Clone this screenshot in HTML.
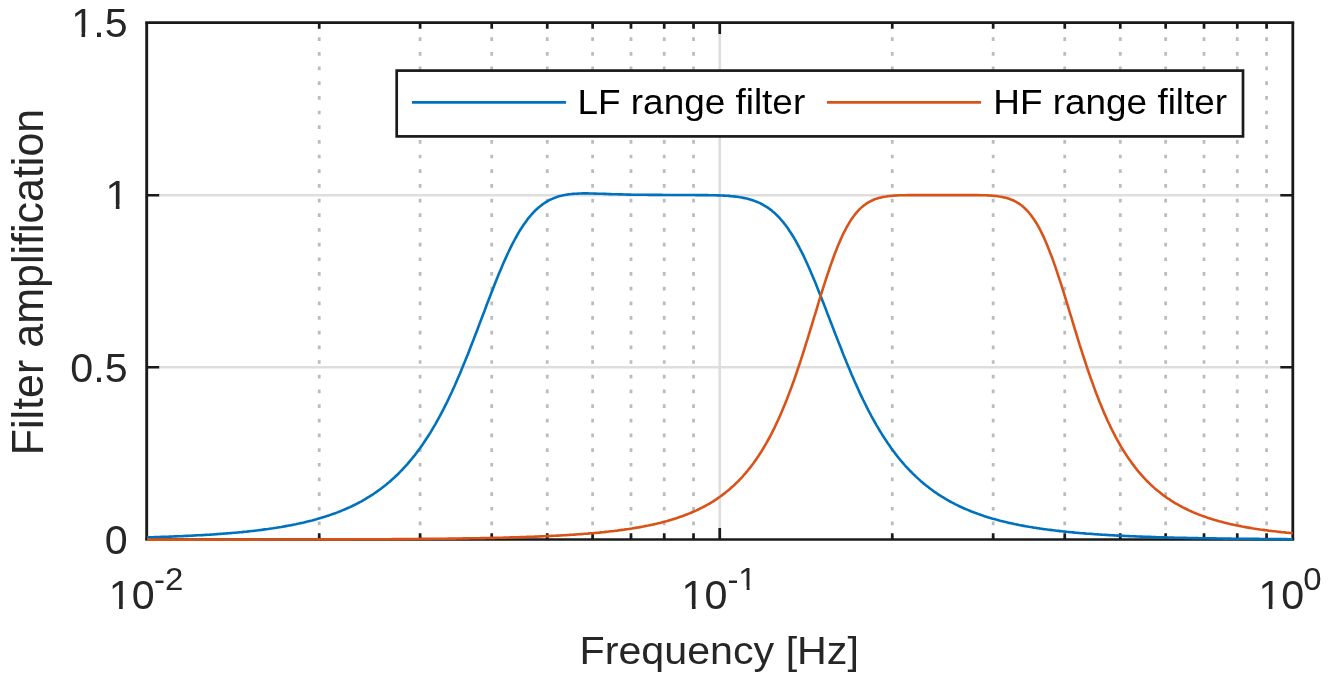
<!DOCTYPE html>
<html lang="en"><head><meta charset="utf-8"><title>Filter amplification</title>
<style>html,body{margin:0;padding:0;background:#fff;overflow:hidden}svg{display:block}text{font-family:"Liberation Sans", Arial, Helvetica, sans-serif}</style></head><body>
<svg width="1329" height="681" viewBox="0 0 1329 681">
<rect width="1329" height="681" fill="#fff"/>
<defs><clipPath id="plot"><rect x="147.00" y="22.50" width="1145.90" height="519.90"/></clipPath></defs>
<g stroke="#bcbcbc" stroke-width="2.8" stroke-dasharray="3.7 10.977" fill="none">
<path d="M319.21,37.25 V539.40"/>
<path d="M420.11,37.25 V539.40"/>
<path d="M491.71,37.25 V539.40"/>
<path d="M547.24,37.25 V539.40"/>
<path d="M592.62,37.25 V539.40"/>
<path d="M630.98,37.25 V539.40"/>
<path d="M664.22,37.25 V539.40"/>
<path d="M693.53,37.25 V539.40"/>
<path d="M892.26,37.25 V539.40"/>
<path d="M993.16,37.25 V539.40"/>
<path d="M1064.76,37.25 V539.40"/>
<path d="M1120.29,37.25 V539.40"/>
<path d="M1165.67,37.25 V539.40"/>
<path d="M1204.03,37.25 V539.40"/>
<path d="M1237.27,37.25 V539.40"/>
<path d="M1266.58,37.25 V539.40"/>
</g>
<g stroke="#dedede" fill="none">
<path stroke-width="2.7" d="M719.75,22.50 V539.40"/>
<path stroke-width="2.5" d="M146.70,367.20 H1292.80"/>
<path stroke-width="2.5" d="M146.70,195.15 H1292.80"/>
</g>
<g stroke="#1a1a1a" stroke-width="2.70" fill="none" stroke-linecap="butt">
<path stroke-width="2.8" d="M145.25,22.55 H1294.20"/>
<path stroke-width="2.55" d="M145.25,539.45 H1294.20"/>
<path stroke-width="2.9" d="M146.70,22.50 V539.40"/>
<path stroke-width="2.8" d="M1292.80,22.50 V539.40"/>
<path d="M319.21,22.50 v6.20 M319.21,539.40 v-6.20"/>
<path d="M420.11,22.50 v6.20 M420.11,539.40 v-6.20"/>
<path d="M491.71,22.50 v6.20 M491.71,539.40 v-6.20"/>
<path d="M547.24,22.50 v6.20 M547.24,539.40 v-6.20"/>
<path d="M592.62,22.50 v6.20 M592.62,539.40 v-6.20"/>
<path d="M630.98,22.50 v6.20 M630.98,539.40 v-6.20"/>
<path d="M664.22,22.50 v6.20 M664.22,539.40 v-6.20"/>
<path d="M693.53,22.50 v6.20 M693.53,539.40 v-6.20"/>
<path d="M719.75,22.50 v11.50 M719.75,539.40 v-11.50"/>
<path d="M892.26,22.50 v6.20 M892.26,539.40 v-6.20"/>
<path d="M993.16,22.50 v6.20 M993.16,539.40 v-6.20"/>
<path d="M1064.76,22.50 v6.20 M1064.76,539.40 v-6.20"/>
<path d="M1120.29,22.50 v6.20 M1120.29,539.40 v-6.20"/>
<path d="M1165.67,22.50 v6.20 M1165.67,539.40 v-6.20"/>
<path d="M1204.03,22.50 v6.20 M1204.03,539.40 v-6.20"/>
<path d="M1237.27,22.50 v6.20 M1237.27,539.40 v-6.20"/>
<path d="M1266.58,22.50 v6.20 M1266.58,539.40 v-6.20"/>
<path stroke-width="2.5" d="M146.70,367.20 h12.50 M1292.80,367.20 h-12.50"/>
<path stroke-width="2.5" d="M146.70,195.15 h12.50 M1292.80,195.15 h-12.50"/>
</g>
<g fill="none" stroke-width="2.6" stroke-linejoin="round" clip-path="url(#plot)">
<path stroke="#0072bd" d="M146.7,537.4 L148.3,537.3 L150.0,537.3 L151.6,537.2 L153.3,537.2 L154.9,537.1 L156.5,537.1 L158.2,537.0 L159.8,537.0 L161.5,536.9 L163.1,536.9 L164.7,536.8 L166.4,536.7 L168.0,536.7 L169.7,536.6 L171.3,536.6 L172.9,536.5 L174.6,536.4 L176.2,536.4 L177.9,536.3 L179.5,536.2 L181.1,536.2 L182.8,536.1 L184.4,536.0 L186.1,535.9 L187.7,535.9 L189.3,535.8 L191.0,535.7 L192.6,535.6 L194.2,535.5 L195.9,535.4 L197.5,535.3 L199.2,535.3 L200.8,535.2 L202.4,535.1 L204.1,535.0 L205.7,534.9 L207.4,534.8 L209.0,534.7 L210.6,534.6 L212.3,534.5 L213.9,534.4 L215.6,534.2 L217.2,534.1 L218.8,534.0 L220.5,533.9 L222.1,533.8 L223.8,533.6 L225.4,533.5 L227.0,533.4 L228.7,533.3 L230.3,533.1 L232.0,533.0 L233.6,532.8 L235.2,532.7 L236.9,532.5 L238.5,532.4 L240.2,532.2 L241.8,532.1 L243.4,531.9 L245.1,531.7 L246.7,531.6 L248.4,531.4 L250.0,531.2 L251.6,531.0 L253.3,530.9 L254.9,530.7 L256.6,530.5 L258.2,530.3 L259.8,530.1 L261.5,529.9 L263.1,529.6 L264.8,529.4 L266.4,529.2 L268.0,529.0 L269.7,528.7 L271.3,528.5 L273.0,528.3 L274.6,528.0 L276.2,527.8 L277.9,527.5 L279.5,527.2 L281.1,527.0 L282.8,526.7 L284.4,526.4 L286.1,526.1 L287.7,525.8 L289.3,525.5 L291.0,525.2 L292.6,524.9 L294.3,524.5 L295.9,524.2 L297.5,523.8 L299.2,523.5 L300.8,523.1 L302.5,522.8 L304.1,522.4 L305.7,522.0 L307.4,521.6 L309.0,521.2 L310.7,520.8 L312.3,520.4 L313.9,519.9 L315.6,519.5 L317.2,519.0 L318.9,518.5 L320.5,518.1 L322.1,517.6 L323.8,517.1 L325.4,516.5 L327.1,516.0 L328.7,515.5 L330.3,514.9 L332.0,514.3 L333.6,513.8 L335.3,513.2 L336.9,512.6 L338.5,511.9 L340.2,511.3 L341.8,510.6 L343.5,509.9 L345.1,509.2 L346.7,508.5 L348.4,507.8 L350.0,507.1 L351.7,506.3 L353.3,505.5 L354.9,504.7 L356.6,503.9 L358.2,503.0 L359.9,502.1 L361.5,501.3 L363.1,500.3 L364.8,499.4 L366.4,498.4 L368.0,497.4 L369.7,496.4 L371.3,495.4 L373.0,494.3 L374.6,493.2 L376.2,492.1 L377.9,490.9 L379.5,489.8 L381.2,488.5 L382.8,487.3 L384.4,486.0 L386.1,484.7 L387.7,483.3 L389.4,482.0 L391.0,480.5 L392.6,479.1 L394.3,477.6 L395.9,476.0 L397.6,474.5 L399.2,472.8 L400.8,471.2 L402.5,469.5 L404.1,467.7 L405.8,465.9 L407.4,464.1 L409.0,462.2 L410.7,460.2 L412.3,458.2 L414.0,456.2 L415.6,454.1 L417.2,451.9 L418.9,449.7 L420.5,447.4 L422.2,445.1 L423.8,442.7 L425.4,440.3 L427.1,437.8 L428.7,435.2 L430.4,432.6 L432.0,429.9 L433.6,427.1 L435.3,424.3 L436.9,421.4 L438.6,418.4 L440.2,415.4 L441.8,412.3 L443.5,409.1 L445.1,405.9 L446.8,402.6 L448.4,399.2 L450.0,395.8 L451.7,392.3 L453.3,388.7 L455.0,385.0 L456.6,381.3 L458.2,377.5 L459.9,373.7 L461.5,369.8 L463.1,365.8 L464.8,361.8 L466.4,357.8 L468.1,353.7 L469.7,349.5 L471.3,345.3 L473.0,341.1 L474.6,336.8 L476.3,332.5 L477.9,328.2 L479.5,323.9 L481.2,319.5 L482.8,315.2 L484.5,310.9 L486.1,306.5 L487.7,302.2 L489.4,297.9 L491.0,293.7 L492.7,289.5 L494.3,285.3 L495.9,281.2 L497.6,277.1 L499.2,273.1 L500.9,269.2 L502.5,265.3 L504.1,261.6 L505.8,257.9 L507.4,254.3 L509.1,250.8 L510.7,247.4 L512.3,244.2 L514.0,241.0 L515.6,238.0 L517.3,235.0 L518.9,232.2 L520.5,229.5 L522.2,227.0 L523.8,224.5 L525.5,222.2 L527.1,219.9 L528.7,217.8 L530.4,215.8 L532.0,214.0 L533.7,212.2 L535.3,210.5 L536.9,209.0 L538.6,207.5 L540.2,206.2 L541.9,204.9 L543.5,203.7 L545.1,202.6 L546.8,201.6 L548.4,200.7 L550.0,199.8 L551.7,199.1 L553.3,198.4 L555.0,197.7 L556.6,197.1 L558.2,196.6 L559.9,196.1 L561.5,195.7 L563.2,195.3 L564.8,195.0 L566.4,194.7 L568.1,194.4 L569.7,194.2 L571.4,194.0 L573.0,193.9 L574.6,193.8 L576.3,193.7 L577.9,193.6 L579.6,193.5 L581.2,193.5 L582.8,193.4 L584.5,193.4 L586.1,193.4 L587.8,193.4 L589.4,193.5 L591.0,193.5 L592.7,193.5 L594.3,193.6 L596.0,193.6 L597.6,193.7 L599.2,193.7 L600.9,193.8 L602.5,193.8 L604.2,193.9 L605.8,193.9 L607.4,194.0 L609.1,194.1 L610.7,194.1 L612.4,194.2 L614.0,194.2 L615.6,194.3 L617.3,194.3 L618.9,194.4 L620.6,194.4 L622.2,194.4 L623.8,194.5 L625.5,194.5 L627.1,194.6 L628.8,194.6 L630.4,194.6 L632.0,194.7 L633.7,194.7 L635.3,194.7 L636.9,194.7 L638.6,194.8 L640.2,194.8 L641.9,194.8 L643.5,194.8 L645.1,194.8 L646.8,194.8 L648.4,194.9 L650.1,194.9 L651.7,194.9 L653.3,194.9 L655.0,194.9 L656.6,194.9 L658.3,194.9 L659.9,194.9 L661.5,194.9 L663.2,195.0 L664.8,195.0 L666.5,195.0 L668.1,195.0 L669.7,195.0 L671.4,195.0 L673.0,195.0 L674.7,195.0 L676.3,195.0 L677.9,195.0 L679.6,195.0 L681.2,195.0 L682.9,195.0 L684.5,195.0 L686.1,195.0 L687.8,195.0 L689.4,195.0 L691.1,195.0 L692.7,195.0 L694.3,195.0 L696.0,195.1 L697.6,195.1 L699.3,195.1 L700.9,195.1 L702.5,195.1 L704.2,195.1 L705.8,195.1 L707.5,195.1 L709.1,195.2 L710.7,195.2 L712.4,195.2 L714.0,195.3 L715.7,195.3 L717.3,195.4 L718.9,195.4 L720.6,195.5 L722.2,195.5 L723.8,195.6 L725.5,195.7 L727.1,195.8 L728.8,195.9 L730.4,196.1 L732.0,196.2 L733.7,196.4 L735.3,196.6 L737.0,196.8 L738.6,197.0 L740.2,197.3 L741.9,197.5 L743.5,197.9 L745.2,198.2 L746.8,198.6 L748.4,199.0 L750.1,199.4 L751.7,199.9 L753.4,200.5 L755.0,201.1 L756.6,201.7 L758.3,202.4 L759.9,203.1 L761.6,204.0 L763.2,204.8 L764.8,205.8 L766.5,206.8 L768.1,207.9 L769.8,209.1 L771.4,210.3 L773.0,211.7 L774.7,213.1 L776.3,214.7 L778.0,216.3 L779.6,218.0 L781.2,219.9 L782.9,221.8 L784.5,223.9 L786.2,226.0 L787.8,228.3 L789.4,230.7 L791.1,233.2 L792.7,235.8 L794.4,238.6 L796.0,241.4 L797.6,244.4 L799.3,247.5 L800.9,250.6 L802.6,253.9 L804.2,257.3 L805.8,260.8 L807.5,264.4 L809.1,268.1 L810.7,271.8 L812.4,275.7 L814.0,279.6 L815.7,283.5 L817.3,287.6 L818.9,291.7 L820.6,295.8 L822.2,300.0 L823.9,304.2 L825.5,308.4 L827.1,312.7 L828.8,316.9 L830.4,321.2 L832.1,325.5 L833.7,329.7 L835.3,334.0 L837.0,338.2 L838.6,342.4 L840.3,346.6 L841.9,350.8 L843.5,354.9 L845.2,358.9 L846.8,363.0 L848.5,366.9 L850.1,370.8 L851.7,374.7 L853.4,378.5 L855.0,382.2 L856.7,385.9 L858.3,389.5 L859.9,393.1 L861.6,396.6 L863.2,400.0 L864.9,403.3 L866.5,406.6 L868.1,409.8 L869.8,413.0 L871.4,416.1 L873.1,419.1 L874.7,422.0 L876.3,424.9 L878.0,427.7 L879.6,430.5 L881.3,433.1 L882.9,435.8 L884.5,438.3 L886.2,440.8 L887.8,443.2 L889.5,445.6 L891.1,447.9 L892.7,450.2 L894.4,452.4 L896.0,454.5 L897.6,456.6 L899.3,458.7 L900.9,460.7 L902.6,462.6 L904.2,464.5 L905.8,466.3 L907.5,468.1 L909.1,469.8 L910.8,471.5 L912.4,473.2 L914.0,474.8 L915.7,476.4 L917.3,477.9 L919.0,479.4 L920.6,480.9 L922.2,482.3 L923.9,483.7 L925.5,485.0 L927.2,486.3 L928.8,487.6 L930.4,488.8 L932.1,490.0 L933.7,491.2 L935.4,492.4 L937.0,493.5 L938.6,494.6 L940.3,495.6 L941.9,496.7 L943.6,497.7 L945.2,498.7 L946.8,499.6 L948.5,500.6 L950.1,501.5 L951.8,502.4 L953.4,503.2 L955.0,504.1 L956.7,504.9 L958.3,505.7 L960.0,506.5 L961.6,507.3 L963.2,508.0 L964.9,508.7 L966.5,509.4 L968.2,510.1 L969.8,510.8 L971.4,511.5 L973.1,512.1 L974.7,512.7 L976.4,513.3 L978.0,513.9 L979.6,514.5 L981.3,515.1 L982.9,515.6 L984.5,516.2 L986.2,516.7 L987.8,517.2 L989.5,517.7 L991.1,518.2 L992.7,518.7 L994.4,519.1 L996.0,519.6 L997.7,520.0 L999.3,520.5 L1000.9,520.9 L1002.6,521.3 L1004.2,521.7 L1005.9,522.1 L1007.5,522.5 L1009.1,522.9 L1010.8,523.2 L1012.4,523.6 L1014.1,524.0 L1015.7,524.3 L1017.3,524.6 L1019.0,525.0 L1020.6,525.3 L1022.3,525.6 L1023.9,525.9 L1025.5,526.2 L1027.2,526.5 L1028.8,526.8 L1030.5,527.0 L1032.1,527.3 L1033.7,527.6 L1035.4,527.8 L1037.0,528.1 L1038.7,528.3 L1040.3,528.6 L1041.9,528.8 L1043.6,529.1 L1045.2,529.3 L1046.9,529.5 L1048.5,529.7 L1050.1,529.9 L1051.8,530.1 L1053.4,530.3 L1055.1,530.5 L1056.7,530.7 L1058.3,530.9 L1060.0,531.1 L1061.6,531.3 L1063.3,531.5 L1064.9,531.6 L1066.5,531.8 L1068.2,532.0 L1069.8,532.1 L1071.5,532.3 L1073.1,532.4 L1074.7,532.6 L1076.4,532.7 L1078.0,532.9 L1079.6,533.0 L1081.3,533.2 L1082.9,533.3 L1084.6,533.4 L1086.2,533.6 L1087.8,533.7 L1089.5,533.8 L1091.1,533.9 L1092.8,534.0 L1094.4,534.2 L1096.0,534.3 L1097.7,534.4 L1099.3,534.5 L1101.0,534.6 L1102.6,534.7 L1104.2,534.8 L1105.9,534.9 L1107.5,535.0 L1109.2,535.1 L1110.8,535.2 L1112.4,535.3 L1114.1,535.4 L1115.7,535.5 L1117.4,535.6 L1119.0,535.6 L1120.6,535.7 L1122.3,535.8 L1123.9,535.9 L1125.6,536.0 L1127.2,536.0 L1128.8,536.1 L1130.5,536.2 L1132.1,536.3 L1133.8,536.3 L1135.4,536.4 L1137.0,536.5 L1138.7,536.5 L1140.3,536.6 L1142.0,536.6 L1143.6,536.7 L1145.2,536.8 L1146.9,536.8 L1148.5,536.9 L1150.2,536.9 L1151.8,537.0 L1153.4,537.0 L1155.1,537.1 L1156.7,537.2 L1158.4,537.2 L1160.0,537.3 L1161.6,537.3 L1163.3,537.3 L1164.9,537.4 L1166.5,537.4 L1168.2,537.5 L1169.8,537.5 L1171.5,537.6 L1173.1,537.6 L1174.7,537.7 L1176.4,537.7 L1178.0,537.7 L1179.7,537.8 L1181.3,537.8 L1182.9,537.8 L1184.6,537.9 L1186.2,537.9 L1187.9,538.0 L1189.5,538.0 L1191.1,538.0 L1192.8,538.1 L1194.4,538.1 L1196.1,538.1 L1197.7,538.1 L1199.3,538.2 L1201.0,538.2 L1202.6,538.2 L1204.3,538.3 L1205.9,538.3 L1207.5,538.3 L1209.2,538.3 L1210.8,538.4 L1212.5,538.4 L1214.1,538.4 L1215.7,538.4 L1217.4,538.5 L1219.0,538.5 L1220.7,538.5 L1222.3,538.5 L1223.9,538.6 L1225.6,538.6 L1227.2,538.6 L1228.9,538.6 L1230.5,538.6 L1232.1,538.7 L1233.8,538.7 L1235.4,538.7 L1237.1,538.7 L1238.7,538.7 L1240.3,538.8 L1242.0,538.8 L1243.6,538.8 L1245.3,538.8 L1246.9,538.8 L1248.5,538.8 L1250.2,538.9 L1251.8,538.9 L1253.4,538.9 L1255.1,538.9 L1256.7,538.9 L1258.4,538.9 L1260.0,539.0 L1261.6,539.0 L1263.3,539.0 L1264.9,539.0 L1266.6,539.0 L1268.2,539.0 L1269.8,539.0 L1271.5,539.0 L1273.1,539.1 L1274.8,539.1 L1276.4,539.1 L1278.0,539.1 L1279.7,539.1 L1281.3,539.1 L1283.0,539.1 L1284.6,539.1 L1286.2,539.1 L1287.9,539.2 L1289.5,539.2 L1291.2,539.2 L1292.8,539.2"/>
<path stroke="#d95319" d="M146.7,539.6 L148.3,539.6 L150.0,539.6 L151.6,539.6 L153.3,539.6 L154.9,539.6 L156.5,539.6 L158.2,539.6 L159.8,539.6 L161.5,539.6 L163.1,539.6 L164.7,539.6 L166.4,539.6 L168.0,539.6 L169.7,539.6 L171.3,539.6 L172.9,539.6 L174.6,539.6 L176.2,539.6 L177.9,539.6 L179.5,539.6 L181.1,539.6 L182.8,539.6 L184.4,539.6 L186.1,539.6 L187.7,539.6 L189.3,539.6 L191.0,539.6 L192.6,539.6 L194.2,539.6 L195.9,539.6 L197.5,539.6 L199.2,539.6 L200.8,539.6 L202.4,539.6 L204.1,539.6 L205.7,539.6 L207.4,539.6 L209.0,539.6 L210.6,539.6 L212.3,539.6 L213.9,539.6 L215.6,539.6 L217.2,539.6 L218.8,539.6 L220.5,539.6 L222.1,539.6 L223.8,539.6 L225.4,539.6 L227.0,539.6 L228.7,539.6 L230.3,539.6 L232.0,539.6 L233.6,539.6 L235.2,539.6 L236.9,539.6 L238.5,539.6 L240.2,539.6 L241.8,539.6 L243.4,539.6 L245.1,539.6 L246.7,539.6 L248.4,539.6 L250.0,539.6 L251.6,539.6 L253.3,539.6 L254.9,539.6 L256.6,539.6 L258.2,539.6 L259.8,539.6 L261.5,539.5 L263.1,539.5 L264.8,539.5 L266.4,539.5 L268.0,539.5 L269.7,539.5 L271.3,539.5 L273.0,539.5 L274.6,539.5 L276.2,539.5 L277.9,539.5 L279.5,539.5 L281.1,539.5 L282.8,539.5 L284.4,539.5 L286.1,539.5 L287.7,539.5 L289.3,539.5 L291.0,539.5 L292.6,539.5 L294.3,539.5 L295.9,539.5 L297.5,539.5 L299.2,539.5 L300.8,539.5 L302.5,539.5 L304.1,539.5 L305.7,539.5 L307.4,539.5 L309.0,539.5 L310.7,539.5 L312.3,539.5 L313.9,539.5 L315.6,539.5 L317.2,539.5 L318.9,539.4 L320.5,539.4 L322.1,539.4 L323.8,539.4 L325.4,539.4 L327.1,539.4 L328.7,539.4 L330.3,539.4 L332.0,539.4 L333.6,539.4 L335.3,539.4 L336.9,539.4 L338.5,539.4 L340.2,539.4 L341.8,539.4 L343.5,539.4 L345.1,539.4 L346.7,539.4 L348.4,539.4 L350.0,539.4 L351.7,539.3 L353.3,539.3 L354.9,539.3 L356.6,539.3 L358.2,539.3 L359.9,539.3 L361.5,539.3 L363.1,539.3 L364.8,539.3 L366.4,539.3 L368.0,539.3 L369.7,539.3 L371.3,539.3 L373.0,539.3 L374.6,539.2 L376.2,539.2 L377.9,539.2 L379.5,539.2 L381.2,539.2 L382.8,539.2 L384.4,539.2 L386.1,539.2 L387.7,539.2 L389.4,539.2 L391.0,539.2 L392.6,539.1 L394.3,539.1 L395.9,539.1 L397.6,539.1 L399.2,539.1 L400.8,539.1 L402.5,539.1 L404.1,539.1 L405.8,539.1 L407.4,539.0 L409.0,539.0 L410.7,539.0 L412.3,539.0 L414.0,539.0 L415.6,539.0 L417.2,539.0 L418.9,539.0 L420.5,538.9 L422.2,538.9 L423.8,538.9 L425.4,538.9 L427.1,538.9 L428.7,538.9 L430.4,538.9 L432.0,538.8 L433.6,538.8 L435.3,538.8 L436.9,538.8 L438.6,538.8 L440.2,538.7 L441.8,538.7 L443.5,538.7 L445.1,538.7 L446.8,538.7 L448.4,538.6 L450.0,538.6 L451.7,538.6 L453.3,538.6 L455.0,538.6 L456.6,538.5 L458.2,538.5 L459.9,538.5 L461.5,538.5 L463.1,538.4 L464.8,538.4 L466.4,538.4 L468.1,538.4 L469.7,538.3 L471.3,538.3 L473.0,538.3 L474.6,538.3 L476.3,538.2 L477.9,538.2 L479.5,538.2 L481.2,538.1 L482.8,538.1 L484.5,538.1 L486.1,538.0 L487.7,538.0 L489.4,538.0 L491.0,537.9 L492.7,537.9 L494.3,537.9 L495.9,537.8 L497.6,537.8 L499.2,537.7 L500.9,537.7 L502.5,537.7 L504.1,537.6 L505.8,537.6 L507.4,537.5 L509.1,537.5 L510.7,537.4 L512.3,537.4 L514.0,537.4 L515.6,537.3 L517.3,537.3 L518.9,537.2 L520.5,537.1 L522.2,537.1 L523.8,537.0 L525.5,537.0 L527.1,536.9 L528.7,536.9 L530.4,536.8 L532.0,536.7 L533.7,536.7 L535.3,536.6 L536.9,536.6 L538.6,536.5 L540.2,536.4 L541.9,536.4 L543.5,536.3 L545.1,536.2 L546.8,536.1 L548.4,536.1 L550.0,536.0 L551.7,535.9 L553.3,535.8 L555.0,535.7 L556.6,535.6 L558.2,535.6 L559.9,535.5 L561.5,535.4 L563.2,535.3 L564.8,535.2 L566.4,535.1 L568.1,535.0 L569.7,534.9 L571.4,534.8 L573.0,534.7 L574.6,534.6 L576.3,534.5 L577.9,534.3 L579.6,534.2 L581.2,534.1 L582.8,534.0 L584.5,533.8 L586.1,533.7 L587.8,533.6 L589.4,533.4 L591.0,533.3 L592.7,533.2 L594.3,533.0 L596.0,532.9 L597.6,532.7 L599.2,532.6 L600.9,532.4 L602.5,532.2 L604.2,532.1 L605.8,531.9 L607.4,531.7 L609.1,531.5 L610.7,531.3 L612.4,531.2 L614.0,531.0 L615.6,530.8 L617.3,530.6 L618.9,530.3 L620.6,530.1 L622.2,529.9 L623.8,529.7 L625.5,529.4 L627.1,529.2 L628.8,529.0 L630.4,528.7 L632.0,528.5 L633.7,528.2 L635.3,527.9 L636.9,527.6 L638.6,527.4 L640.2,527.1 L641.9,526.8 L643.5,526.5 L645.1,526.1 L646.8,525.8 L648.4,525.5 L650.1,525.1 L651.7,524.8 L653.3,524.4 L655.0,524.1 L656.6,523.7 L658.3,523.3 L659.9,522.9 L661.5,522.5 L663.2,522.0 L664.8,521.6 L666.5,521.2 L668.1,520.7 L669.7,520.2 L671.4,519.7 L673.0,519.2 L674.7,518.7 L676.3,518.2 L677.9,517.7 L679.6,517.1 L681.2,516.5 L682.9,515.9 L684.5,515.3 L686.1,514.7 L687.8,514.1 L689.4,513.4 L691.1,512.7 L692.7,512.0 L694.3,511.3 L696.0,510.6 L697.6,509.8 L699.3,509.0 L700.9,508.2 L702.5,507.4 L704.2,506.5 L705.8,505.6 L707.5,504.7 L709.1,503.8 L710.7,502.8 L712.4,501.8 L714.0,500.8 L715.7,499.7 L717.3,498.6 L718.9,497.5 L720.6,496.3 L722.2,495.1 L723.8,493.9 L725.5,492.6 L727.1,491.3 L728.8,489.9 L730.4,488.5 L732.0,487.1 L733.7,485.6 L735.3,484.0 L737.0,482.4 L738.6,480.8 L740.2,479.1 L741.9,477.3 L743.5,475.5 L745.2,473.6 L746.8,471.7 L748.4,469.7 L750.1,467.7 L751.7,465.5 L753.4,463.3 L755.0,461.0 L756.6,458.7 L758.3,456.3 L759.9,453.8 L761.6,451.2 L763.2,448.5 L764.8,445.8 L766.5,442.9 L768.1,440.0 L769.8,437.0 L771.4,433.8 L773.0,430.6 L774.7,427.3 L776.3,423.9 L778.0,420.3 L779.6,416.7 L781.2,413.0 L782.9,409.1 L784.5,405.2 L786.2,401.1 L787.8,396.9 L789.4,392.6 L791.1,388.2 L792.7,383.8 L794.4,379.2 L796.0,374.5 L797.6,369.7 L799.3,364.8 L800.9,359.8 L802.6,354.7 L804.2,349.6 L805.8,344.4 L807.5,339.1 L809.1,333.8 L810.7,328.5 L812.4,323.1 L814.0,317.7 L815.7,312.3 L817.3,306.9 L818.9,301.5 L820.6,296.2 L822.2,290.9 L823.9,285.7 L825.5,280.6 L827.1,275.6 L828.8,270.7 L830.4,265.9 L832.1,261.3 L833.7,256.7 L835.3,252.4 L837.0,248.2 L838.6,244.2 L840.3,240.4 L841.9,236.8 L843.5,233.3 L845.2,230.1 L846.8,227.0 L848.5,224.1 L850.1,221.4 L851.7,218.9 L853.4,216.6 L855.0,214.4 L856.7,212.4 L858.3,210.6 L859.9,208.9 L861.6,207.4 L863.2,206.0 L864.9,204.7 L866.5,203.6 L868.1,202.5 L869.8,201.6 L871.4,200.8 L873.1,200.0 L874.7,199.3 L876.3,198.8 L878.0,198.2 L879.6,197.8 L881.3,197.4 L882.9,197.0 L884.5,196.7 L886.2,196.5 L887.8,196.2 L889.5,196.0 L891.1,195.9 L892.7,195.7 L894.4,195.6 L896.0,195.5 L897.6,195.4 L899.3,195.3 L900.9,195.3 L902.6,195.2 L904.2,195.2 L905.8,195.2 L907.5,195.1 L909.1,195.1 L910.8,195.1 L912.4,195.1 L914.0,195.1 L915.7,195.1 L917.3,195.1 L919.0,195.1 L920.6,195.1 L922.2,195.1 L923.9,195.1 L925.5,195.1 L927.2,195.1 L928.8,195.1 L930.4,195.1 L932.1,195.1 L933.7,195.1 L935.4,195.1 L937.0,195.1 L938.6,195.1 L940.3,195.1 L941.9,195.1 L943.6,195.1 L945.2,195.1 L946.8,195.1 L948.5,195.1 L950.1,195.1 L951.8,195.1 L953.4,195.1 L955.0,195.1 L956.7,195.1 L958.3,195.1 L960.0,195.1 L961.6,195.1 L963.2,195.1 L964.9,195.1 L966.5,195.1 L968.2,195.1 L969.8,195.1 L971.4,195.1 L973.1,195.1 L974.7,195.1 L976.4,195.1 L978.0,195.1 L979.6,195.2 L981.3,195.2 L982.9,195.2 L984.5,195.3 L986.2,195.3 L987.8,195.4 L989.5,195.5 L991.1,195.6 L992.7,195.7 L994.4,195.9 L996.0,196.0 L997.7,196.2 L999.3,196.5 L1000.9,196.7 L1002.6,197.0 L1004.2,197.4 L1005.9,197.8 L1007.5,198.3 L1009.1,198.8 L1010.8,199.4 L1012.4,200.0 L1014.1,200.8 L1015.7,201.6 L1017.3,202.6 L1019.0,203.6 L1020.6,204.8 L1022.3,206.0 L1023.9,207.4 L1025.5,209.0 L1027.2,210.7 L1028.8,212.5 L1030.5,214.5 L1032.1,216.7 L1033.7,219.0 L1035.4,221.5 L1037.0,224.2 L1038.7,227.1 L1040.3,230.2 L1041.9,233.4 L1043.6,236.9 L1045.2,240.5 L1046.9,244.4 L1048.5,248.4 L1050.1,252.6 L1051.8,256.9 L1053.4,261.4 L1055.1,266.1 L1056.7,270.9 L1058.3,275.8 L1060.0,280.8 L1061.6,285.9 L1063.3,291.1 L1064.9,296.4 L1066.5,301.7 L1068.2,307.1 L1069.8,312.5 L1071.5,317.9 L1073.1,323.3 L1074.7,328.7 L1076.4,334.0 L1078.0,339.3 L1079.6,344.6 L1081.3,349.8 L1082.9,354.9 L1084.6,360.0 L1086.2,364.9 L1087.8,369.8 L1089.5,374.6 L1091.1,379.3 L1092.8,383.9 L1094.4,388.4 L1096.0,392.8 L1097.7,397.1 L1099.3,401.2 L1101.0,405.3 L1102.6,409.3 L1104.2,413.1 L1105.9,416.8 L1107.5,420.5 L1109.2,424.0 L1110.8,427.4 L1112.4,430.7 L1114.1,433.9 L1115.7,437.1 L1117.4,440.1 L1119.0,443.0 L1120.6,445.9 L1122.3,448.6 L1123.9,451.3 L1125.6,453.9 L1127.2,456.4 L1128.8,458.8 L1130.5,461.1 L1132.1,463.4 L1133.8,465.6 L1135.4,467.7 L1137.0,469.8 L1138.7,471.8 L1140.3,473.7 L1142.0,475.6 L1143.6,477.4 L1145.2,479.1 L1146.9,480.8 L1148.5,482.5 L1150.2,484.1 L1151.8,485.6 L1153.4,487.1 L1155.1,488.6 L1156.7,490.0 L1158.4,491.3 L1160.0,492.6 L1161.6,493.9 L1163.3,495.2 L1164.9,496.4 L1166.5,497.5 L1168.2,498.7 L1169.8,499.7 L1171.5,500.8 L1173.1,501.8 L1174.7,502.8 L1176.4,503.8 L1178.0,504.7 L1179.7,505.7 L1181.3,506.5 L1182.9,507.4 L1184.6,508.2 L1186.2,509.0 L1187.9,509.8 L1189.5,510.6 L1191.1,511.3 L1192.8,512.1 L1194.4,512.8 L1196.1,513.4 L1197.7,514.1 L1199.3,514.7 L1201.0,515.4 L1202.6,516.0 L1204.3,516.6 L1205.9,517.1 L1207.5,517.7 L1209.2,518.2 L1210.8,518.8 L1212.5,519.3 L1214.1,519.8 L1215.7,520.2 L1217.4,520.7 L1219.0,521.2 L1220.7,521.6 L1222.3,522.1 L1223.9,522.5 L1225.6,522.9 L1227.2,523.3 L1228.9,523.7 L1230.5,524.1 L1232.1,524.4 L1233.8,524.8 L1235.4,525.1 L1237.1,525.5 L1238.7,525.8 L1240.3,526.1 L1242.0,526.5 L1243.6,526.8 L1245.3,527.1 L1246.9,527.4 L1248.5,527.6 L1250.2,527.9 L1251.8,528.2 L1253.4,528.5 L1255.1,528.7 L1256.7,529.0 L1258.4,529.2 L1260.0,529.5 L1261.6,529.7 L1263.3,529.9 L1264.9,530.1 L1266.6,530.3 L1268.2,530.6 L1269.8,530.8 L1271.5,531.0 L1273.1,531.2 L1274.8,531.3 L1276.4,531.5 L1278.0,531.7 L1279.7,531.9 L1281.3,532.1 L1283.0,532.2 L1284.6,532.4 L1286.2,532.6 L1287.9,532.7 L1289.5,532.9 L1291.2,533.0 L1292.8,533.2"/>
</g>
<text transform="translate(104.69,554.20) scale(1.0300,1)" font-size="40.00" text-anchor="start" fill="#262626">0</text>
<text transform="translate(70.33,381.50) scale(1.0300,1)" font-size="40.00" text-anchor="start" fill="#262626">0.5</text>
<text transform="translate(105.49,208.80) scale(1.0300,1)" font-size="40.00" text-anchor="start" fill="#262626">1</text>
<rect x="107.42" y="204.71" width="8.42" height="5.29" fill="#fff"/><rect x="119.49" y="204.71" width="8.10" height="5.29" fill="#fff"/>
<text dx="0.8 -0.8" transform="translate(70.33,36.50) scale(1.0300,1)" font-size="40.00" text-anchor="start" fill="#262626">1.5</text>
<rect x="73.09" y="32.41" width="8.42" height="5.29" fill="#fff"/><rect x="85.15" y="32.41" width="8.10" height="5.29" fill="#fff"/>
<text transform="translate(108.73,609.00) scale(1.0300,1)" font-size="40.00" fill="#262626">10<tspan font-size="32.00" dx="-0.60" dy="-19.00">-2</tspan></text>
<rect x="110.67" y="604.91" width="8.42" height="5.29" fill="#fff"/><rect x="122.73" y="604.91" width="8.10" height="5.29" fill="#fff"/>
<text transform="translate(681.58,609.00) scale(1.0300,1)" font-size="40.00" fill="#262626">10<tspan font-size="32.00" dx="0.00" dy="-19.00">-1</tspan></text>
<rect x="683.52" y="604.91" width="8.42" height="5.29" fill="#fff"/><rect x="695.58" y="604.91" width="8.10" height="5.29" fill="#fff"/>
<rect x="739.70" y="586.51" width="6.98" height="4.69" fill="#fff"/><rect x="749.59" y="586.51" width="6.72" height="4.69" fill="#fff"/>
<text transform="translate(1258.42,609.00) scale(1.0300,1)" font-size="40.00" fill="#262626">10<tspan font-size="32.00" dx="-0.90" dy="-19.00">0</tspan></text>
<rect x="1260.36" y="604.91" width="8.42" height="5.29" fill="#fff"/><rect x="1272.42" y="604.91" width="8.10" height="5.29" fill="#fff"/>
<text transform="translate(719.20,664.00) scale(1.0570,1)" font-size="39.00" text-anchor="middle" fill="#262626">Frequency [Hz]</text>
<text transform="translate(42.6,282) scale(1.05,1) rotate(-90)" font-size="43" text-anchor="middle" fill="#262626">Filter amplification</text>
<rect x="396.7" y="70.6" width="846.30" height="65.80" fill="#fff" stroke="#1a1a1a" stroke-width="2.7"/>
<path d="M412,102.4 H566" stroke="#0072bd" stroke-width="2.6"/>
<path d="M827,102.4 H981" stroke="#d95319" stroke-width="2.6"/>
<text transform="translate(577.50,114.00) scale(1.0400,1)" font-size="35.50" text-anchor="start" fill="#000">LF range filter</text>
<text transform="translate(993.30,114.00) scale(1.0400,1)" font-size="35.50" text-anchor="start" fill="#000">HF range filter</text>
</svg></body></html>
